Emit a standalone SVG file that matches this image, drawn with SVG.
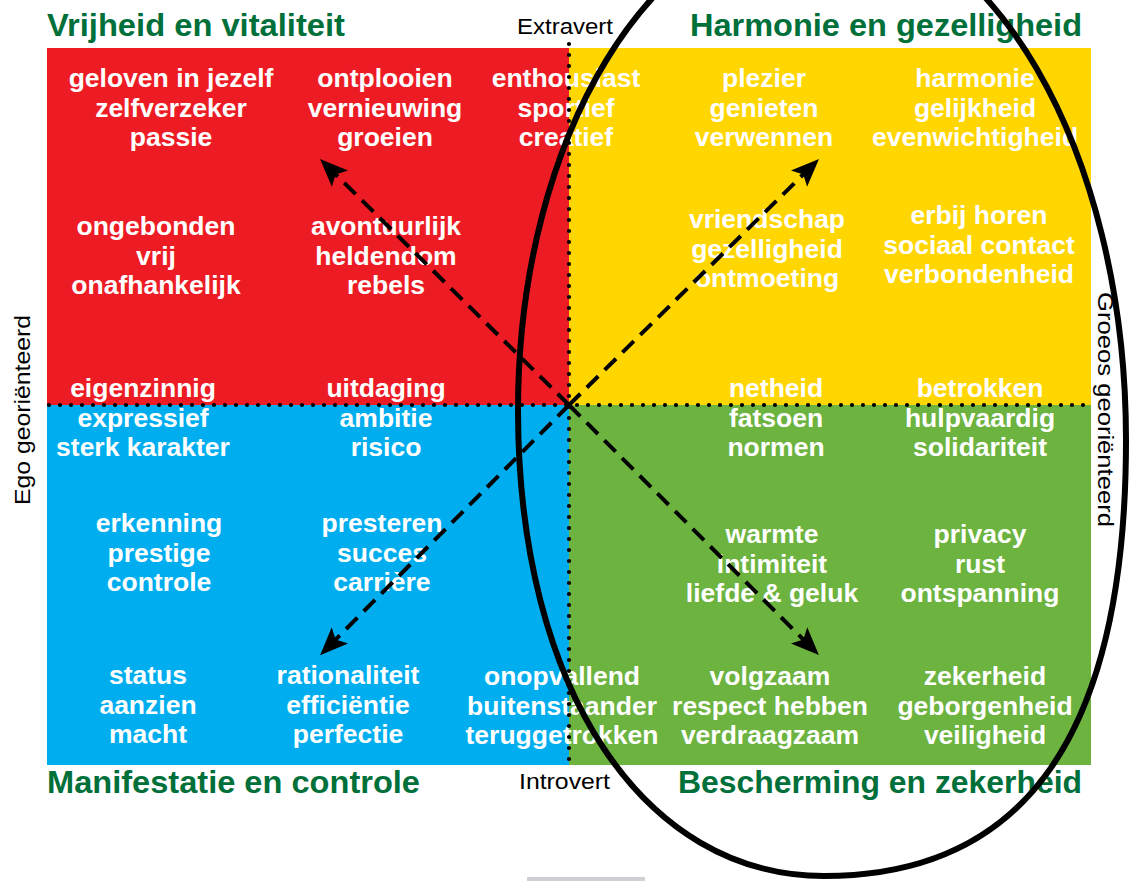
<svg xmlns="http://www.w3.org/2000/svg" width="1134" height="881" viewBox="0 0 1134 881">
<style>
.w{font-family:"Liberation Sans",Arial,sans-serif;font-weight:bold;font-size:26.5px;fill:#fff;text-anchor:middle}
.t{font-family:"Liberation Sans",Arial,sans-serif;font-weight:bold;font-size:31px;fill:#00703a}
.l{font-family:"Liberation Sans",Arial,sans-serif;font-size:22px;fill:#000}
.dot{stroke:#000;stroke-width:4.2;stroke-linecap:round;stroke-dasharray:0 11;fill:none}
.arr{stroke:#000;stroke-width:4;stroke-dasharray:16 9;fill:none;marker-end:url(#ah)}
</style>
<defs>
<marker id="ah" markerUnits="userSpaceOnUse" markerWidth="40" markerHeight="40" refX="0" refY="0" viewBox="-20 -20 40 40" orient="auto" overflow="visible">
<path d="M15,0 L-13,-11.5 L-7,0 L-13,11.5 Z" fill="#000"/>
</marker>
</defs>
<rect width="1134" height="881" fill="#fff"/>
<g id="q-red"><rect x="47" y="48" width="522" height="357" fill="#ed1c24"/></g>
<g id="q-yellow"><rect x="569" y="48" width="522" height="357" fill="#ffd600"/></g>
<g id="q-blue"><rect x="47" y="405" width="522" height="360" fill="#00aeef"/></g>
<g id="q-green"><rect x="569" y="405" width="522" height="360" fill="#6cb33f"/></g>

<g id="titles">
<text class="t" x="47" y="36" textLength="298" lengthAdjust="spacingAndGlyphs">Vrijheid en vitaliteit</text>
<text class="t" x="690" y="36" textLength="392" lengthAdjust="spacingAndGlyphs">Harmonie en gezelligheid</text>
<text class="t" x="47" y="793" textLength="373" lengthAdjust="spacingAndGlyphs">Manifestatie en controle</text>
<text class="t" x="678" y="793" textLength="404" lengthAdjust="spacingAndGlyphs">Bescherming en zekerheid</text>
</g>

<g id="axis-labels">
<text class="l" x="517" y="34" textLength="96" lengthAdjust="spacingAndGlyphs">Extravert</text>
<text class="l" x="519" y="789" textLength="91" lengthAdjust="spacingAndGlyphs">Introvert</text>
<text class="l" transform="translate(30,505) rotate(-90)" x="0" y="0" textLength="190" lengthAdjust="spacingAndGlyphs">Ego georiënteerd</text>
<text class="l" transform="translate(1098,292) rotate(90)" x="0" y="0" textLength="235" lengthAdjust="spacingAndGlyphs">Groeos georiënteerd</text>
</g>

<g id="n1"><text class="w" x="171" y="87"><tspan x="171">geloven in jezelf</tspan><tspan x="171" dy="29.5">zelfverzeker</tspan><tspan x="171" dy="29.5">passie</tspan></text></g>
<g id="n2"><text class="w" x="385" y="87"><tspan x="385">ontplooien</tspan><tspan x="385" dy="29.5">vernieuwing</tspan><tspan x="385" dy="29.5">groeien</tspan></text></g>
<g id="n3"><text class="w" x="566" y="87"><tspan x="566">enthousiast</tspan><tspan x="566" dy="29.5">sportief</tspan><tspan x="566" dy="29.5">creatief</tspan></text></g>
<g id="n4"><text class="w" x="764" y="87"><tspan x="764">plezier</tspan><tspan x="764" dy="29.5">genieten</tspan><tspan x="764" dy="29.5">verwennen</tspan></text></g>
<g id="n5"><text class="w" x="975" y="87"><tspan x="975">harmonie</tspan><tspan x="975" dy="29.5">gelijkheid</tspan><tspan x="975" dy="29.5">evenwichtigheid</tspan></text></g>
<g id="n6"><text class="w" x="156" y="235"><tspan x="156">ongebonden</tspan><tspan x="156" dy="29.5">vrij</tspan><tspan x="156" dy="29.5">onafhankelijk</tspan></text></g>
<g id="n7"><text class="w" x="386" y="235"><tspan x="386">avontuurlijk</tspan><tspan x="386" dy="29.5">heldendom</tspan><tspan x="386" dy="29.5">rebels</tspan></text></g>
<g id="n8"><text class="w" x="767" y="228"><tspan x="767">vriendschap</tspan><tspan x="767" dy="29.5">gezelligheid</tspan><tspan x="767" dy="29.5">ontmoeting</tspan></text></g>
<g id="n9"><text class="w" x="979" y="224"><tspan x="979">erbij horen</tspan><tspan x="979" dy="29.5">sociaal contact</tspan><tspan x="979" dy="29.5">verbondenheid</tspan></text></g>
<g id="n10"><text class="w" x="143" y="397"><tspan x="143">eigenzinnig</tspan><tspan x="143" dy="29.5">expressief</tspan><tspan x="143" dy="29.5">sterk karakter</tspan></text></g>
<g id="n11"><text class="w" x="386" y="397"><tspan x="386">uitdaging</tspan><tspan x="386" dy="29.5">ambitie</tspan><tspan x="386" dy="29.5">risico</tspan></text></g>
<g id="n12"><text class="w" x="776" y="397"><tspan x="776">netheid</tspan><tspan x="776" dy="29.5">fatsoen</tspan><tspan x="776" dy="29.5">normen</tspan></text></g>
<g id="n13"><text class="w" x="980" y="397"><tspan x="980">betrokken</tspan><tspan x="980" dy="29.5">hulpvaardig</tspan><tspan x="980" dy="29.5">solidariteit</tspan></text></g>
<g id="n14"><text class="w" x="159" y="532"><tspan x="159">erkenning</tspan><tspan x="159" dy="29.5">prestige</tspan><tspan x="159" dy="29.5">controle</tspan></text></g>
<g id="n15"><text class="w" x="382" y="532"><tspan x="382">presteren</tspan><tspan x="382" dy="29.5">succes</tspan><tspan x="382" dy="29.5">carrière</tspan></text></g>
<g id="n16"><text class="w" x="772" y="543"><tspan x="772">warmte</tspan><tspan x="772" dy="29.5">intimiteit</tspan><tspan x="772" dy="29.5">liefde &amp; geluk</tspan></text></g>
<g id="n17"><text class="w" x="980" y="543"><tspan x="980">privacy</tspan><tspan x="980" dy="29.5">rust</tspan><tspan x="980" dy="29.5">ontspanning</tspan></text></g>
<g id="n18"><text class="w" x="148" y="684"><tspan x="148">status</tspan><tspan x="148" dy="29.5">aanzien</tspan><tspan x="148" dy="29.5">macht</tspan></text></g>
<g id="n19"><text class="w" x="348" y="684"><tspan x="348">rationaliteit</tspan><tspan x="348" dy="29.5">efficiëntie</tspan><tspan x="348" dy="29.5">perfectie</tspan></text></g>
<g id="n20"><text class="w" x="562" y="685"><tspan x="562">onopvallend</tspan><tspan x="562" dy="29.5">buitenstaander</tspan><tspan x="562" dy="29.5">teruggetrokken</tspan></text></g>
<g id="n21"><text class="w" x="770" y="685"><tspan x="770">volgzaam</tspan><tspan x="770" dy="29.5">respect hebben</tspan><tspan x="770" dy="29.5">verdraagzaam</tspan></text></g>
<g id="n22"><text class="w" x="985" y="685"><tspan x="985">zekerheid</tspan><tspan x="985" dy="29.5">geborgenheid</tspan><tspan x="985" dy="29.5">veiligheid</tspan></text></g>

<g id="axes">
<line class="dot" x1="569" y1="44" x2="569" y2="767"/>
<line class="dot" x1="49" y1="405" x2="1090" y2="405"/>
</g>

<g id="connectors">
<line class="arr" x1="569" y1="405" x2="330.7" y2="169.5"/>
<line class="arr" x1="569" y1="405" x2="808.3" y2="169.5"/>
<line class="arr" x1="569" y1="405" x2="330.7" y2="644.5"/>
<line class="arr" x1="569" y1="405" x2="808.3" y2="644.5"/>
</g>

<g id="ellipse">
<path d="M518,410 C518,137 653,-85 820,-85 C990,-85 1126,150 1126,440 C1126,735 1025,876 824,876 C644,876 518,690 518,410 Z" fill="none" stroke="#000" stroke-width="6"/>
</g>

<rect x="527" y="877" width="118" height="4" fill="#cfd0d4"/>
</svg>
